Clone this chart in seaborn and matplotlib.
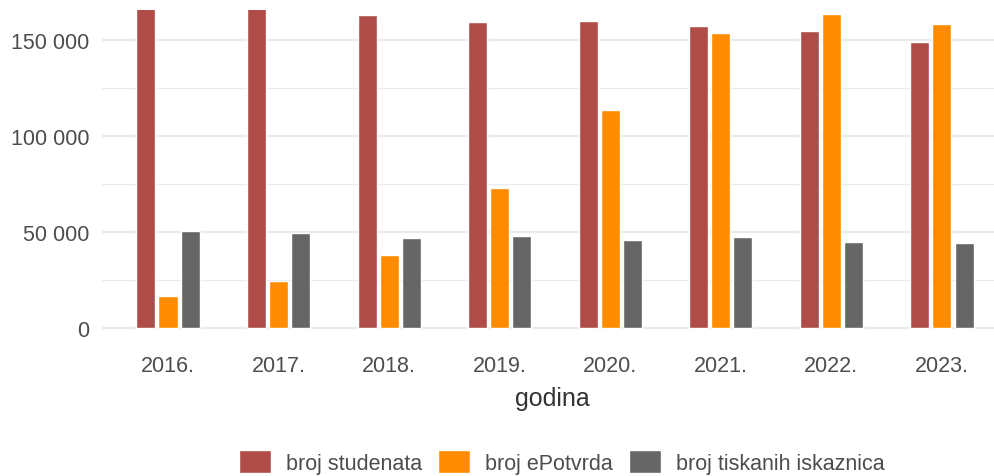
import pandas as pd
import seaborn as sns
from matplotlib import pyplot as plt
from matplotlib.ticker import FixedLocator

# Podaci po godinama (očitano s grafa)
godine = ["2016.", "2017.", "2018.", "2019.", "2020.", "2021.", "2022.", "2023."]
broj_studenata = [166500, 166500, 163000, 159400, 159900, 157300, 154700, 149000]
broj_epotvrda = [16700, 24500, 38000, 72900, 113500, 153600, 163500, 158300]
broj_tiskanih = [50500, 49500, 46900, 47900, 45800, 47400, 44800, 44300]

serije = ["broj studenata", "broj ePotvrda", "broj tiskanih iskaznica"]
boje = ["#B04C47", "#FF8C00", "#666666"]

y_ticks = [0, 50000, 100000, 150000]
y_tick_labels = ["0", "50 000", "100 000", "150 000"]

df = pd.DataFrame({
    "godina": godine * 3,
    "serija": [serije[0]] * 8 + [serije[1]] * 8 + [serije[2]] * 8,
    "broj": broj_studenata + broj_epotvrda + broj_tiskanih,
})

sns.set_style("white")
plt.rcParams["font.family"] = ["Liberation Sans", "DejaVu Sans"]

W, H = 995, 477
fig = plt.figure(figsize=(W / 100, H / 100), dpi=100)
ax = fig.add_axes([102 / W, 1 - 345 / H, (W - 102) / W, (345 - 11) / H])

sns.barplot(data=df, x="godina", y="broj", hue="serija", order=godine,
            hue_order=serije, palette=boje, width=0.6, gap=0.14,
            saturation=1, errorbar=None, ax=ax, zorder=3)

handles, labels = ax.get_legend_handles_labels()
if ax.get_legend() is not None:
    ax.get_legend().remove()

ax.set_xlim(-0.597, 7.48)
ax.set_ylim(-8300, 165600)
ax.yaxis.set_major_locator(FixedLocator(y_ticks))
ax.set_yticklabels(y_tick_labels)
ax.yaxis.set_minor_locator(FixedLocator([25000, 75000, 125000]))
ax.grid(axis="y", which="major", color="#ebebeb", linewidth=1.6, zorder=0)
ax.grid(axis="y", which="minor", color="#ebebeb", linewidth=0.9, zorder=0)
ax.grid(axis="x", visible=False)
ax.set_axisbelow(True)
for s in ax.spines.values():
    s.set_visible(False)

ax.tick_params(axis="both", which="both", length=0, labelsize=15.5,
               labelcolor="#4d4d4d")
ax.tick_params(axis="y", pad=9)
ax.tick_params(axis="x", pad=8)
ax.set_ylabel("")
ax.set_xlabel("godina", fontsize=18, color="#333333", labelpad=5)
ax.xaxis.set_label_coords(0.504, -0.125)

fig.legend(handles, labels, loc="center", bbox_to_anchor=(562 / W, 1 - 463 / H),
           ncol=3, frameon=False, fontsize=15.5, labelcolor="#4d4d4d",
           handlelength=1.49, handleheight=1.3, handletextpad=0.7,
           columnspacing=0.75, borderpad=0, borderaxespad=0)

fig.savefig("out.png", dpi=100)
